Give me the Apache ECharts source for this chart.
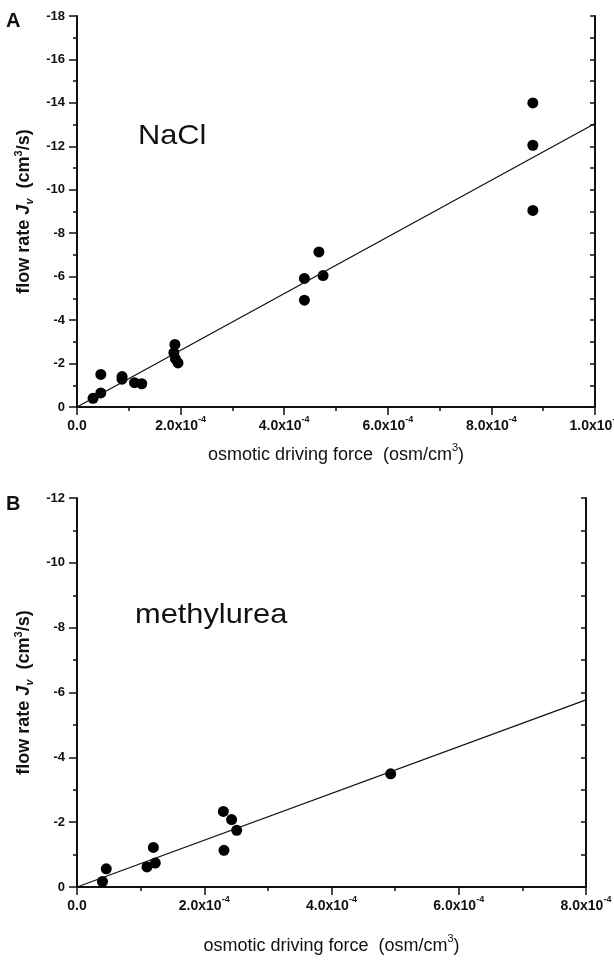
<!DOCTYPE html>
<html>
<head>
<meta charset="utf-8">
<script src="https://cdn.jsdelivr.net/npm/echarts@6/dist/echarts.min.js"></script>
<style>
  html, body { margin: 0; padding: 0; background: #fff; }
  #chart { width: 614px; height: 964px; }
</style>
</head>
<body>
<div id="chart"></div>
<script>
// panel A: NaCl
var naclX = [0.31e-4, 0.46e-4, 0.46e-4, 0.87e-4, 0.87e-4, 1.11e-4, 1.25e-4,
             1.89e-4, 1.87e-4, 1.90e-4, 1.95e-4,
             4.39e-4, 4.39e-4, 4.67e-4, 4.75e-4,
             8.80e-4, 8.80e-4, 8.80e-4];
var naclY = [-0.40, -0.65, -1.50, -1.40, -1.28, -1.12, -1.07,
             -2.88, -2.50, -2.22, -2.03,
             -5.92, -4.92, -7.14, -6.05,
             -14.0, -12.05, -9.05];
var naclFitX = [0, 1.0e-3];
var naclFitY = [0, -13.05];

// panel B: methylurea
var ureaX = [0.40e-4, 0.46e-4, 1.10e-4, 1.23e-4, 1.20e-4, 2.31e-4, 2.30e-4, 2.43e-4, 2.51e-4, 4.93e-4];
var ureaY = [-0.17, -0.56, -0.62, -0.74, -1.22, -1.13, -2.33, -2.08, -1.75, -3.49];
var ureaFitX = [0, 8.0e-4];
var ureaFitY = [0, -5.77];

var font = 'Arial, "Liberation Sans", sans-serif';
var ink = '#111';

function pairs(xs, ys) {
    var out = [];
    for (var i = 0; i < xs.length; i++) out.push([xs[i], ys[i]]);
    return out;
}

// 2.0x10^-4 style labels
function sciLabel(v) {
    if (v === 0) return '{b|0.0}';
    var e = Math.floor(Math.log10(v) + 1e-9);
    var m = v / Math.pow(10, e);
    return '{b|' + m.toFixed(1) + 'x10}{sup|' + e + '}';
}

var supRich = {
    b: { fontSize: 14, fontWeight: 'bold', fontFamily: font, color: ink, lineHeight: 18, verticalAlign: 'bottom' },
    sup: { fontSize: 9, fontWeight: 'bold', fontFamily: font, color: ink, lineHeight: 9, verticalAlign: 'top' }
};

var nameRichX = {
    t: { fontSize: 18, fontFamily: font, color: ink, lineHeight: 22, verticalAlign: 'bottom' },
    sup: { fontSize: 11, fontFamily: font, color: ink, lineHeight: 11, verticalAlign: 'top' }
};
var nameRichY = {
    t: { fontSize: 18, fontWeight: 'bold', fontFamily: font, color: ink, lineHeight: 22, verticalAlign: 'middle' },
    i: { fontSize: 18, fontWeight: 'bold', fontStyle: 'italic', fontFamily: font, color: ink, lineHeight: 22, verticalAlign: 'middle' },
    sub: { fontSize: 11, fontWeight: 'bold', fontStyle: 'italic', fontFamily: font, color: ink, lineHeight: 11, verticalAlign: 'bottom' },
    sup: { fontSize: 11, fontWeight: 'bold', fontFamily: font, color: ink, lineHeight: 11, verticalAlign: 'top' }
};

var xName = '{t|osmotic driving force  (osm/cm}{sup|3}{t|)}';
var yName = '{t|flow rate }{i|J}{sub|v}{t|  (cm}{sup|3}{t|/s)}';

function bottomAxis(grid, max, gap) {
    return {
        gridIndex: grid, type: 'value', position: 'bottom',
        min: 0, max: max, interval: 2e-4,
        name: xName, nameLocation: 'middle', nameGap: gap,
        nameTextStyle: { rich: nameRichX },
        axisLine: { lineStyle: { color: ink, width: 2 } },
        axisTick: { inside: false, length: 8, lineStyle: { color: ink, width: 1.5 } },
        minorTick: { show: true, splitNumber: 2, length: 4, lineStyle: { color: ink, width: 1.5 } },
        axisLabel: { margin: 8, formatter: sciLabel, rich: supRich, showMinLabel: true, showMaxLabel: true },
        splitLine: { show: false }
    };
}

function topAxis(grid, max) {
    return {
        gridIndex: grid, type: 'value', position: 'top',
        min: 0, max: max, interval: 2e-4,
        axisLine: { lineStyle: { color: ink, width: 2 } },
        axisTick: { inside: true, length: 8, lineStyle: { color: ink, width: 1.5 } },
        minorTick: { show: true, splitNumber: 2, length: 4, lineStyle: { color: ink, width: 1.5 } },
        axisLabel: { show: false },
        splitLine: { show: false }
    };
}

function leftAxis(grid, min) {
    return {
        gridIndex: grid, type: 'value', position: 'left', inverse: true,
        min: min, max: 0, interval: 2,
        name: yName, nameLocation: 'middle', nameGap: 41, nameRotate: 90,
        nameTextStyle: { rich: nameRichY },
        axisLine: { onZero: false, lineStyle: { color: ink, width: 2 } },
        axisTick: { inside: false, length: 8, lineStyle: { color: ink, width: 1.5 } },
        minorTick: { show: true, splitNumber: 2, length: 4, lineStyle: { color: ink, width: 1.5 } },
        axisLabel: { margin: 12, fontSize: 13, fontWeight: 'bold', fontFamily: font, color: ink },
        splitLine: { show: false }
    };
}

function rightAxis(grid, min) {
    return {
        gridIndex: grid, type: 'value', position: 'right', inverse: true,
        min: min, max: 0, interval: 2,
        axisLine: { onZero: false, lineStyle: { color: ink, width: 2 } },
        axisTick: { inside: true, length: 5, lineStyle: { color: ink, width: 1.5 } },
        minorTick: { show: true, splitNumber: 2, length: 5, lineStyle: { color: ink, width: 1.5 } },
        axisLabel: { show: false },
        splitLine: { show: false }
    };
}

var myChart = echarts.init(document.getElementById('chart'));

var option = {
    animation: false,
    backgroundColor: '#fff',
    grid: [
        { left: 77, top: 16, width: 518, height: 391, containLabel: false, outerBoundsMode: 'none' },
        { left: 77, top: 498, width: 509, height: 389, containLabel: false, outerBoundsMode: 'none' }
    ],
    xAxis: [bottomAxis(0, 1.0e-3, 35), topAxis(0, 1.0e-3), bottomAxis(1, 8.0e-4, 46), topAxis(1, 8.0e-4)],
    yAxis: [leftAxis(0, -18), rightAxis(0, -18), leftAxis(1, -12), rightAxis(1, -12)],
    graphic: [
        { type: 'text', left: 6, top: 11, style: { text: 'A', font: 'bold 20px ' + font, fill: ink } },
        { type: 'text', left: 6, top: 494, style: { text: 'B', font: 'bold 20px ' + font, fill: ink } },
        { type: 'text', left: 138, top: 122, scaleX: 1.1, style: { text: 'NaCl', font: '28px ' + font, fill: ink } },
        { type: 'text', left: 135, top: 601, scaleX: 1.1, style: { text: 'methylurea', font: '28px ' + font, fill: ink } }
    ],
    series: [
        {
            name: 'NaCl fit', type: 'line', xAxisIndex: 0, yAxisIndex: 0,
            data: pairs(naclFitX, naclFitY), symbol: 'none',
            lineStyle: { color: ink, width: 1.3 }
        },
        {
            name: 'NaCl', type: 'scatter', xAxisIndex: 0, yAxisIndex: 0,
            data: pairs(naclX, naclY), symbol: 'circle', symbolSize: 11,
            itemStyle: { color: '#000', opacity: 1 }
        },
        {
            name: 'methylurea fit', type: 'line', xAxisIndex: 2, yAxisIndex: 2,
            data: pairs(ureaFitX, ureaFitY), symbol: 'none',
            lineStyle: { color: ink, width: 1.3 }
        },
        {
            name: 'methylurea', type: 'scatter', xAxisIndex: 2, yAxisIndex: 2,
            data: pairs(ureaX, ureaY), symbol: 'circle', symbolSize: 11,
            itemStyle: { color: '#000', opacity: 1 }
        }
    ]
};

myChart.setOption(option);
window.onresize = myChart.resize;
</script>
</body>
</html>
